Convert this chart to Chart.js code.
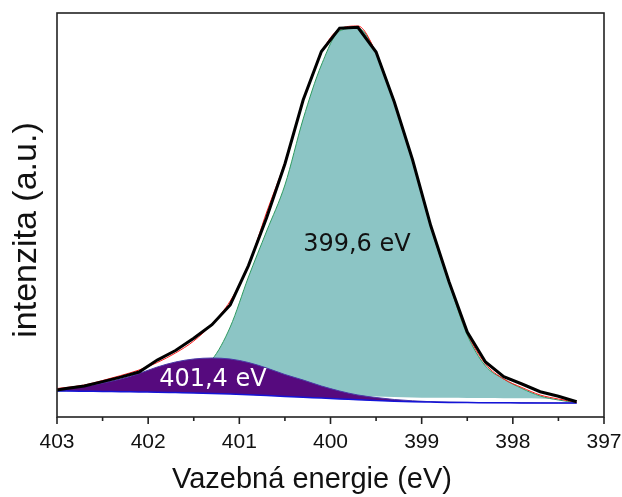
<!DOCTYPE html>
<html>
<head>
<meta charset="utf-8">
<script src="https://cdn.jsdelivr.net/npm/chart.js@4/dist/chart.umd.min.js"></script>
<style>
  html, body { margin: 0; padding: 0; background: #fff; }
  #wrap { width: 622px; height: 497px; }
</style>
</head>
<body>
<div id="wrap"><canvas id="xps-chart" width="622" height="497"></canvas></div>
<script>
// ============================================================
// N 1s XPS spectrum — measured curve, fit envelope, 2 components
// ============================================================

// --- Data (binding energy grid, eV) ---
var ENERGY = [403.0, 402.9, 402.7, 402.5, 402.3, 402.1, 401.9, 401.7, 401.5, 401.3,
  401.1, 400.9, 400.7, 400.5, 400.3, 400.1, 399.9, 399.7, 399.5, 399.3,
  399.1, 398.9, 398.7, 398.5, 398.3, 398.1, 397.9, 397.7, 397.5, 397.3];

// measured intensity (black)
var MEASURED = [27, 28.4, 31, 35.4, 39.9, 45, 56.9, 66.5, 78.7, 92.3,
  112, 151.4, 199.4, 253, 317, 365.5, 388.8, 389.7, 365, 315,
  257.2, 191.2, 135.3, 85, 55, 40.3, 33, 25.3, 20.7, 15.3];

// fit envelope (red)
var ENVELOPE = [28.5, 29.5, 32, 36.5, 41.5, 47, 54.5, 64, 76, 93,
  116, 152, 205, 255, 316, 364, 388, 391, 364, 314,
  256, 191, 135, 84, 53, 38, 29.5, 22, 18, 14.8];

// component 399,6 eV (teal) and its lower edge
var PEAK_3996 = [26, 26.3, 26.8, 27.5, 28.8, 31, 34.5, 40, 47.5, 57.5,
  90, 140, 186, 232, 298, 352, 386, 389, 364, 315,
  256, 190, 134, 82, 51, 38, 28.5, 21, 17, 14.3];
var PEAK_3996_BASE = [26, 26, 25.8, 25.5, 25.3, 25, 24.8, 24.4, 24, 23.5,
  22.9, 22.2, 23, 23.5, 23, 22.5, 22, 21.3, 20.5, 20,
  19.6, 19.3, 19.2, 19, 18.9, 18.8, 18.7, 18.6, 17, 14.3];

// component 401,4 eV (purple)
var PEAK_4014 = [27.7, 28.8, 30.5, 34, 38, 43.5, 50, 55, 58, 59,
  58, 54.5, 49, 42.5, 37, 31, 26, 22, 19.5, 17.5,
  16.2, 15.3, 14.9, 14.6, 14.4, 14.3, 14.2, 14.1, 14.0, 14.0];

// background (blue)
var BACKGROUND = [26, 26, 25.8, 25.5, 25.3, 25, 24.8, 24.4, 24, 23.5,
  22.9, 22.2, 21.4, 20.5, 19.7, 18.9, 18.1, 17.3, 16.5, 15.7,
  15.2, 14.9, 14.6, 14.4, 14.3, 14.2, 14.1, 14.1, 14.0, 14.0];

var X_MIN = 397;
var X_MAX = 403;
var Y_MAX = 404;

var PEAK_LABELS = [
  { text: '399,6 eV', x: 399.71, y: 172, color: '#111' },
  { text: '401,4 eV', x: 401.29, y: 37, color: '#fff' }
];

(function () {
  'use strict';

  function toPoints(values) {
    return ENERGY.map(function (e, i) { return { x: e, y: values[i] }; });
  }

  // --- Frame, minor ticks, axis titles, peak labels ---
  var decorPlugin = {
    id: 'decor',
    afterDraw: function (chart) {
      var ctx = chart.ctx;
      var a = chart.chartArea;
      var xs = chart.scales.x;
      var ys = chart.scales.y;

      ctx.save();
      ctx.strokeStyle = '#222';
      ctx.lineWidth = 1.6;
      ctx.strokeRect(a.left, a.top, a.right - a.left, a.bottom - a.top);

      // tick marks (major every 1 eV, minor every 0.5 eV)
      xs.ticks.forEach(function (t) {
        var px = xs.getPixelForValue(t.value);
        var major = Math.abs(t.value - Math.round(t.value)) < 1e-6;
        ctx.beginPath();
        ctx.moveTo(px, a.bottom);
        ctx.lineTo(px, a.bottom + (major ? 7 : 4));
        ctx.stroke();
      });

      // peak labels
      ctx.font = '24px "DejaVu Sans"';
      ctx.textAlign = 'center';
      ctx.textBaseline = 'middle';
      PEAK_LABELS.forEach(function (l) {
        ctx.fillStyle = l.color;
        ctx.fillText(l.text, xs.getPixelForValue(l.x), ys.getPixelForValue(l.y));
      });

      // axis titles
      ctx.fillStyle = '#111';
      ctx.font = '29px "Liberation Sans", Arial, sans-serif';
      ctx.textBaseline = 'alphabetic';
      ctx.fillText('Vazebná energie (eV)', 312, 488);

      ctx.translate(27, 230);
      ctx.rotate(-Math.PI / 2);
      ctx.font = '34px "Liberation Sans", Arial, sans-serif';
      ctx.textBaseline = 'middle';
      ctx.fillText('intenzita (a.u.)', 0, 0);
      ctx.restore();
    }
  };

  // --- Chart ---
  var ctx = document.getElementById('xps-chart');

  new Chart(ctx, {
    type: 'line',
    data: {
      datasets: [
        {
          label: 'measured',
          data: toPoints(MEASURED),
          borderColor: '#000',
          borderWidth: 3,
          pointRadius: 0,
          fill: false,
          order: 0
        },
        {
          label: 'envelope',
          data: toPoints(ENVELOPE),
          borderColor: '#ff1a1a',
          borderWidth: 1,
          pointRadius: 0,
          cubicInterpolationMode: 'monotone',
          fill: false,
          order: 1
        },
        {
          label: 'background',
          data: toPoints(BACKGROUND),
          borderColor: '#1414d8',
          borderWidth: 1.5,
          pointRadius: 0,
          cubicInterpolationMode: 'monotone',
          fill: false,
          order: 2
        },
        {
          label: '401,4 eV',
          data: toPoints(PEAK_4014),
          borderColor: '#4a3aa8',
          borderWidth: 1,
          backgroundColor: '#560a7e',
          pointRadius: 0,
          cubicInterpolationMode: 'monotone',
          fill: { target: 2 },
          order: 3
        },
        {
          label: '399,6 eV',
          data: toPoints(PEAK_3996),
          borderColor: '#2e9a60',
          borderWidth: 1,
          backgroundColor: '#8cc5c5',
          pointRadius: 0,
          cubicInterpolationMode: 'monotone',
          fill: { target: 5 },
          order: 4
        },
        {
          label: 'base 399,6',
          data: toPoints(PEAK_3996_BASE),
          borderWidth: 0,
          borderColor: 'rgba(0,0,0,0)',
          pointRadius: 0,
          cubicInterpolationMode: 'monotone',
          fill: false,
          order: 5
        }
      ]
    },
    options: {
      responsive: false,
      animation: false,
      events: [],
      layout: { padding: { top: 13, right: 18, left: 57, bottom: 0 } },
      plugins: {
        legend: { display: false },
        tooltip: { enabled: false }
      },
      scales: {
        x: {
          type: 'linear',
          reverse: true,
          min: X_MIN,
          max: X_MAX,
          grid: { display: false, drawTicks: false },
          border: { display: false },
          afterFit: function (scale) {
            scale.height = 80;
            scale.paddingLeft = 0;
            scale.paddingRight = 0;
          },
          ticks: {
            stepSize: 0.5,
            padding: 13,
            color: '#111',
            font: { family: '"Liberation Sans", Arial, sans-serif', size: 21 },
            callback: function (v) {
              return Math.abs(v - Math.round(v)) < 1e-6 ? String(Math.round(v)) : '';
            }
          }
        },
        y: {
          display: false,
          min: 0,
          max: Y_MAX
        }
      }
    },
    plugins: [decorPlugin]
  });
})();
</script>
</body>
</html>
